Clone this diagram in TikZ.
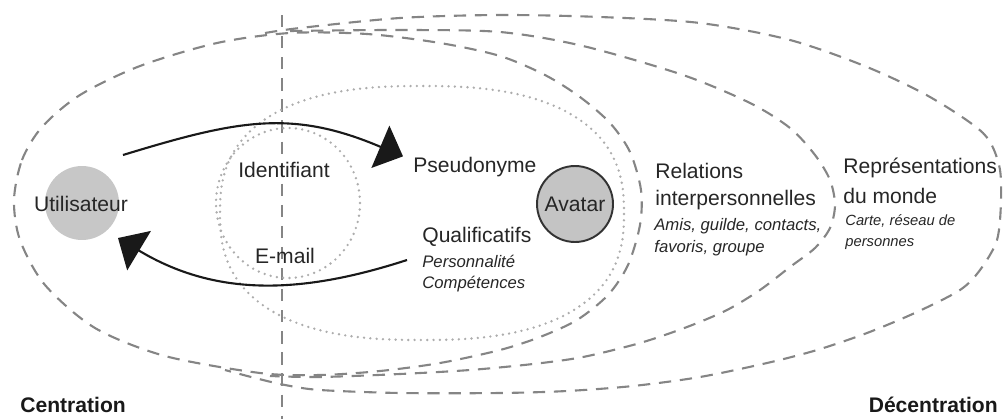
\documentclass[tikz,border=0pt]{standalone}
\usepackage{fontspec}
\setmainfont{Liberation Sans}
\usetikzlibrary{positioning}
\usetikzlibrary{arrows.meta}

\tikzset{
	zone/.style={draw=black!48, line width=1.2pt, dash pattern=on 7pt off 5pt},
	pointille/.style={draw=black!32, line width=1.5pt, line cap=round, dash pattern=on 0pt off 3.6pt},
	fleche/.style={black!90, line width=1.2pt, -{Triangle[length=14pt,width=26pt]}},
	lbl/.style={inner sep=0pt, anchor=base west, text=black!85, font=\fontsize{12}{14}\selectfont},
	sub/.style={lbl, font=\fontsize{9.5}{11}\selectfont\itshape},
	titre/.style={inner sep=0pt, text=black!90, font=\fontsize{12}{14}\selectfont\bfseries}
}

\begin{document}
\begin{tikzpicture}[x=0.02cm, y=0.02cm]
		\useasboundingbox (0,0) rectangle (1003,-419);
		
		% cercles de centration
		\draw[zone] plot[smooth cycle] coordinates {(14,-200) (22,-160) (42,-127) (80,-95) (140,-66) (217,-43) (290,-33) (367,-34) (440,-43) (500,-56) (545,-75) (580,-97) (610,-123) (630,-152) (641,-190) (640,-225) (628,-265) (608,-295) (577,-320) (540,-337) (500,-350) (440,-363) (380,-371) (320,-375) (260,-373) (165,-356) (95,-328) (45,-285) (20,-240)};
		\draw[zone] plot[smooth] coordinates {(290,-31) (400,-30) (500,-32) (583,-46) (683,-75) (750,-103) (790,-128) (815,-155) (830,-180) (835,-205) (830,-228) (815,-248) (790,-267) (760,-290) (727,-310) (687,-327) (640,-343) (583,-357) (533,-364) (470,-370) (400,-374) (320,-377) (270,-376)};
		\draw[zone] plot[smooth] coordinates {(265,-33) (300,-28) (400,-18) (500,-15) (600,-17) (700,-23) (790,-40) (867,-67) (930,-97) (983,-133) (999,-165) (1001,-200) (997,-240) (980,-270) (960,-290) (917,-312) (867,-333) (817,-350) (767,-363) (700,-377) (633,-386) (567,-391) (500,-393) (400,-393) (320,-390) (285,-385) (255,-378) (225,-370)};
		\draw[zone] (282,-15) -- (282,-419);
		
		% pointilles
		\draw[pointille] (288,-203) ellipse [x radius=72, y radius=75];
		\draw[pointille] plot[domain=1:361, samples=121] ({422+202*sign(cos(\x))*abs(cos(\x))^0.8}, {-213+127*sign(sin(\x))*abs(sin(\x))^0.8}) -- cycle;
		
		% utilisateur et avatar
		\node[circle, fill=black!22, minimum size=1.48cm, inner sep=0pt] (user) at (82,-203) {};
		\node[lbl, anchor=base] (usertxt) at (81,-211) {Utilisateur};
		\node[circle, draw=black!80, line width=1.1pt, fill=black!23, minimum size=1.52cm, inner sep=0pt, text=black!85, font=\fontsize{12}{14}\selectfont] (avatar) at (575,-204) {Avatar};
		
		\node[lbl, anchor=base] (ident) at (284,-177) {Identifiant};
		\node[lbl, anchor=base] (email) at (285,-263) {E-mail};
		\node[lbl] (pseudo) at (413,-172) {Pseudonyme};
		\node[lbl] (quali) at (422,-242) {Qualificatifs};
		\node[sub] (perso) at (422,-267) {Personnalité};
		\node[sub] (compet) at (422,-288) {Compétences};
		
		\node[lbl] (rel) at (655,-178) {Relations};
		\node[lbl] (inter) at (655,-205) {interpersonnelles};
		\node[sub] (amis) at (654,-230) {Amis, guilde, contacts,};
		\node[sub] (favoris) at (654,-252) {favoris, groupe};
		
		\node[lbl] (repr) at (843,-173) {Représentations};
		\node[lbl] (monde) at (843,-203) {du monde};
		\node[sub, font=\fontsize{8.4}{10}\selectfont\itshape] (carte) at (845,-225) {Carte, réseau de};
		\node[sub, font=\fontsize{8.4}{10}\selectfont\itshape] (pers) at (845,-246) {personnes};
		
		\node[titre, anchor=base west] (centr) at (20,-412) {Centration};
		\node[titre, anchor=base east] (decentr) at (998,-412) {Décentration};
		
		% fleches
		\draw[fleche] ([shift={(41,48)}]user.center) to[out=17, in=157, looseness=1.1] ([shift={(-10,0)}]pseudo.north west);
		\draw[fleche] ([shift={(-15,-18)}]quali.base west) to[out=198, in=-31] ([shift={(36,-35)}]user.center);
	\end{tikzpicture}
\end{document}
